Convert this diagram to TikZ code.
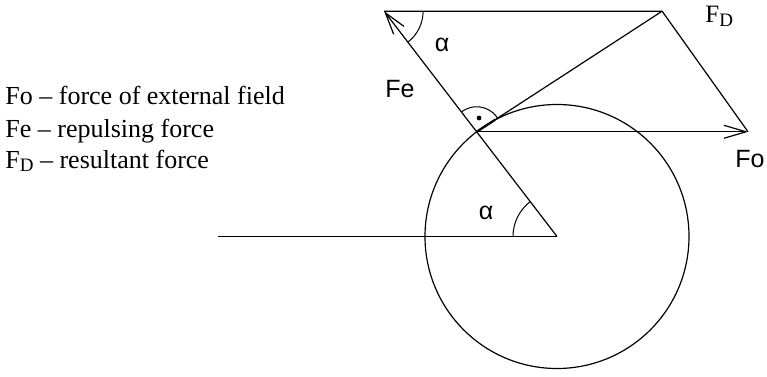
\documentclass[tikz,border=0pt]{standalone}
\usepackage{fontspec}
\setmainfont{Liberation Serif}
\setsansfont{Liberation Sans}
\usetikzlibrary{arrows.meta,calc}
\newcommand{\FD}{F\raisebox{-2pt}{\fontsize{9.5}{9.5}\selectfont D}}
\tikzset{
  line/.style    = {line width=0.6pt},
  force/.style   = {line, -{Straight Barb[length=11pt,width=6.5pt]}},
  angmark/.style = {line width=0.5pt},
  lbl/.style     = {font=\sffamily\fontsize{12.5}{14}\selectfont, inner sep=0pt},
  legend/.style  = {font=\fontsize{13}{16}\selectfont, inner sep=0pt,
                    anchor=base west},
}

\begin{document}
\begin{tikzpicture}[x=0.5pt, y=0.5pt]
\useasboundingbox (0,0) rectangle (767,376);
% ---- points ----
\coordinate (O) at (557,139.5);
\coordinate (P) at ($(O)+(127.5:132)$);
\coordinate (E) at ($(P)+(127.5:152)$);
\coordinate (D) at ($(E)+(278,0)$);
\coordinate (F) at ($(P)+(271.4,0)$);
\coordinate (L) at (218,139.5);
% ---- circle and axis ----
\draw[line] (O) circle[radius=132];
\draw[line] (L) -- (O);
% ---- forces ----
\draw[line] (O) -- (P);
\draw[force] (P) -- (E);
\draw[force] (P) -- (F);
\draw[line] (P) -- (D);
\draw[line] (E) -- (D) -- (F);
\draw[line width=1.1pt] (P) -- ($(P)!11pt!(D)$);
% ---- angle marks ----
\draw[angmark] ($(E)+(0:39)$) arc[start angle=0, end angle=-52.5, radius=39];
\draw[angmark] ($(O)+(180:44)$) arc[start angle=180, end angle=127.5, radius=44];
\draw[angmark] ($(P)+(127.5:25)$) arc[start angle=127.5, end angle=33, radius=25];
\fill ($(P)+(80:14)$) circle[radius=1.2pt];
% ---- labels ----
\node[lbl] (alphaTop) at (442,331) {α};
\node[lbl] (alphaLow) at (486,163) {α};
\node[lbl] (labFe) at (400,287) {Fe};
\node[lbl, anchor=east] (labFo) at (765,217) {Fo};
\node[legend, font=\fontsize{12.5}{14}\selectfont] (labFD) at (705,353) {\FD};
% ---- legend ----
\node[legend] (leg1) at (5,271) {Fo -- force of external field};
\node[legend] (leg2) at (5,239) {Fe -- repulsing force};
\node[legend] (leg3) at (5,208) {\FD{} -- resultant force};
\end{tikzpicture}
\end{document}
